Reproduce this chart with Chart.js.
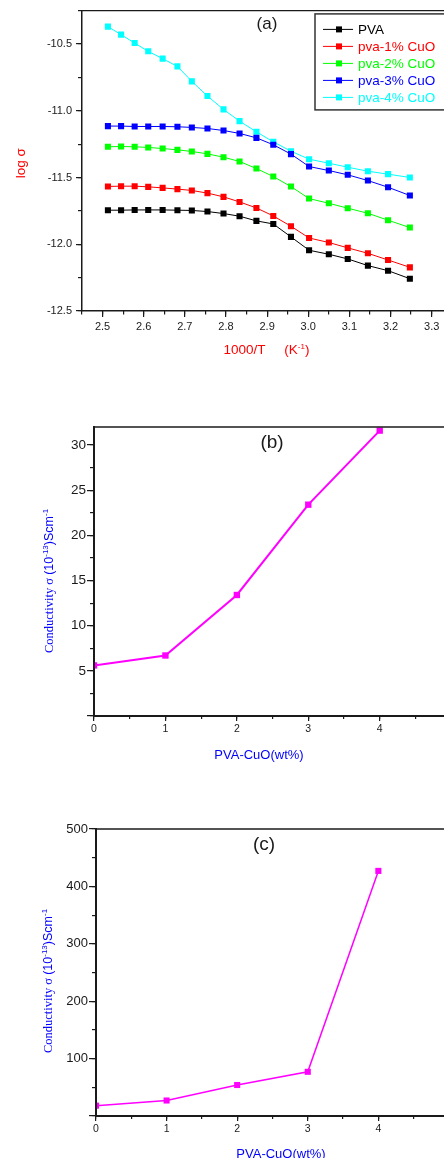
<!DOCTYPE html>
<html>
<head>
<meta charset="utf-8">
<title>PVA-CuO conductivity</title>
<script src="https://cdn.jsdelivr.net/npm/chart.js@4.4.1/dist/chart.umd.min.js"></script>
<style>
  html, body { margin: 0; padding: 0; background: #fff; overflow: hidden; }
  body { width: 444px; height: 1158px; position: relative; }
  canvas { position: absolute; left: 0; }
  #chartA { top: 0; }
  #chartB { top: 400px; }
  #chartC { top: 800px; }
</style>
</head>
<body>
<canvas id="chartA" width="444" height="362"></canvas>
<canvas id="chartB" width="444" height="370"></canvas>
<canvas id="chartC" width="444" height="370"></canvas>
<script>
const INK = '#1a1a1a';
const SANS = '"Liberation Sans", Arial, sans-serif';
const SERIF = '"Liberation Serif", "Times New Roman", serif';
const RED = '#ff0000';
const BLUE = '#0000ff';
const MAGENTA = '#ff00ff';

// ---------- (a) log sigma vs 1000/T ----------
const invT = [2.513, 2.545, 2.578, 2.611, 2.646, 2.682, 2.717, 2.755, 2.794, 2.833,
              2.874, 2.915, 2.958, 3.002, 3.050, 3.096, 3.145, 3.194, 3.247];
const logPVA  = [-11.745, -11.745, -11.743, -11.743, -11.743, -11.745, -11.747, -11.755, -11.770, -11.790,
                 -11.825, -11.848, -11.945, -12.045, -12.075, -12.110, -12.160, -12.198, -12.258];
const logCuO1 = [-11.567, -11.565, -11.565, -11.570, -11.578, -11.587, -11.597, -11.617, -11.645, -11.683,
                 -11.728, -11.788, -11.865, -11.953, -11.987, -12.027, -12.068, -12.118, -12.173];
const logCuO2 = [-11.270, -11.268, -11.270, -11.275, -11.283, -11.293, -11.305, -11.323, -11.348, -11.380,
                 -11.433, -11.493, -11.568, -11.658, -11.693, -11.730, -11.768, -11.820, -11.875];
const logCuO3 = [-11.115, -11.115, -11.118, -11.118, -11.118, -11.120, -11.125, -11.133, -11.148, -11.170,
                 -11.203, -11.255, -11.325, -11.418, -11.448, -11.480, -11.523, -11.573, -11.635];
const logCuO4 = [-10.370, -10.430, -10.493, -10.555, -10.610, -10.668, -10.780, -10.890, -10.990, -11.078,
                 -11.158, -11.233, -11.303, -11.363, -11.393, -11.423, -11.453, -11.475, -11.500];
const seriesLabels = ['PVA', 'pva-1% CuO', 'pva-2% CuO', 'pva-3% CuO', 'pva-4% CuO'];
const seriesColors = ['#000000', '#ff0000', '#00ff00', '#0000ff', '#00ffff'];
const seriesValues = [logPVA, logCuO1, logCuO2, logCuO3, logCuO4];

// ---------- (b), (c) conductivity vs CuO content ----------
const cuoWt = [0, 1, 2, 3, 4];
const sigmaB = [5.6, 6.7, 13.4, 23.4, 31.6];
const sigmaC = [18, 27, 54, 77, 427];

Chart.defaults.font.family = SANS;
Chart.defaults.color = INK;
Chart.defaults.animation = false;
Chart.defaults.events = [];
Chart.defaults.plugins.legend.display = false;
Chart.defaults.plugins.tooltip.enabled = false;

// text made of runs with their own font and raise (for superscripts)
function richText(ctx, runs, cx, cy, rot) {
  ctx.save();
  ctx.translate(cx, cy);
  ctx.rotate(rot);
  ctx.textAlign = 'left';
  ctx.textBaseline = 'alphabetic';
  let total = 0;
  const widths = runs.map(r => { ctx.font = r.font; const w = ctx.measureText(r.t).width; total += w; return w; });
  let x = -total / 2;
  runs.forEach((r, i) => {
    ctx.font = r.font;
    ctx.fillStyle = r.color;
    ctx.fillText(r.t, x, -(r.rise || 0));
    x += widths[i];
  });
  ctx.restore();
}

function drawLegend(chart, L) {
  const { ctx, chartArea: a } = chart;
  const left = a.right - L.fromRight;
  const top = a.top + L.dy;
  const sets = chart.data.datasets;
  const h = L.first + L.row * (sets.length - 1) + L.tail;
  ctx.fillStyle = '#fff';
  ctx.fillRect(left, top, a.right - left + 10, h);
  ctx.strokeStyle = '#333';
  ctx.lineWidth = 1.5;
  ctx.strokeRect(left, top, a.right - left + 10, h);
  ctx.font = `13.5px ${SANS}`;
  ctx.textAlign = 'left';
  ctx.textBaseline = 'middle';
  sets.forEach((ds, i) => {
    const y = top + L.first + i * L.row;
    ctx.strokeStyle = ds.borderColor;
    ctx.lineWidth = 1;
    ctx.beginPath();
    ctx.moveTo(left + 8, y);
    ctx.lineTo(left + 38, y);
    ctx.stroke();
    ctx.fillStyle = ds.borderColor;
    ctx.fillRect(left + 24 - 3, y - 3, 6, 6);
    ctx.fillText(ds.label, left + 43, y + 0.5);
  });
}

const decor = {
  id: 'decor',
  afterDraw(chart, _args, o) {
    const { ctx, chartArea: a } = chart;
    const midX = (a.left + a.right) / 2;
    const midY = (a.top + a.bottom) / 2;
    ctx.save();

    // top frame (right edge of the plot lies outside the picture)
    ctx.strokeStyle = INK;
    ctx.lineWidth = o.frame;
    ctx.beginPath();
    ctx.moveTo(a.left, a.top);
    ctx.lineTo(a.right, a.top);
    ctx.stroke();

    ctx.fillStyle = INK;
    ctx.font = `${o.tagSize}px ${SANS}`;
    ctx.textAlign = 'center';
    ctx.textBaseline = 'middle';
    ctx.fillText(o.tag, midX + o.tagDx, a.top + o.tagDy);

    richText(ctx, o.xTitle, midX + o.xTitleDx, a.bottom + o.xTitleDy, 0);
    richText(ctx, o.yTitle, o.yTitleX, midY + o.yTitleDy, -Math.PI / 2);

    if (o.legend) drawLegend(chart, o.legend);
    ctx.restore();
  },
};

// a labelled axis plus an overlaid, zero-size axis that only draws minor ticks
function axisPair(dir, o) {
  const horizontal = dir === 'x';
  const fix = n => s => { if (horizontal) s.height = n; else s.width = n; };
  const common = { type: 'linear', axis: dir, position: horizontal ? 'bottom' : 'left', min: o.min, max: o.max };
  return {
    [dir]: {
      ...common, weight: 1, afterFit: fix(o.size),
      border: { color: INK, width: o.line, z: 1 },
      grid: { drawOnChartArea: false, color: INK, lineWidth: 1.2, tickLength: o.tick },
      ticks: {
        stepSize: o.major, includeBounds: false, autoSkip: false, maxRotation: 0,
        padding: o.pad, color: INK, font: { family: SANS, size: o.fontSize }, callback: o.fmt,
      },
    },
    [dir + 'Minor']: {
      ...common, weight: 0, afterFit: fix(0),
      border: { display: false },
      grid: { drawOnChartArea: false, color: INK, lineWidth: 1.2, tickLength: o.minorTick },
      ticks: { display: false, stepSize: o.minor, includeBounds: false, autoSkip: false },
    },
  };
}

function lineSet(label, xs, ys, color, width, radius) {
  return {
    label,
    data: xs.map((x, i) => ({ x, y: ys[i] })),
    xAxisID: 'x', yAxisID: 'y',
    borderColor: color, backgroundColor: color,
    borderWidth: width, tension: 0,
    pointStyle: 'rect', pointRadius: radius, pointHoverRadius: radius, pointBorderWidth: 0,
    clip: 0,
  };
}

const sup = (t, color) => ({ t, font: `8px ${SANS}`, color, rise: 5 });

// ---------- chart (a) ----------
new Chart(document.getElementById('chartA'), {
  type: 'line',
  data: {
    datasets: seriesValues.map((v, i) => lineSet(seriesLabels[i], invT, v, seriesColors[i], 1, 4.3)),
  },
  options: {
    responsive: false,
    layout: { autoPadding: false, padding: { top: 10, left: 0, right: 0, bottom: 0 } },
    scales: {
      ...axisPair('x', { min: 2.45, max: 3.33, major: 0.1, minor: 0.05, size: 51, line: 1.5, tick: 6, minorTick: 3.5,
        pad: 3, fontSize: 11, fmt: v => v.toFixed(1) }),
      ...axisPair('y', { min: -12.5, max: -10.25, major: 0.5, minor: 0.25, size: 82, line: 1.5, tick: 6, minorTick: 4,
        pad: 4, fontSize: 11, fmt: v => v.toFixed(1) }),
    },
    plugins: {
      decor: {
        frame: 1.3, tag: '(a)', tagSize: 17, tagDx: 4, tagDy: 14,
        xTitle: [
          { t: '1000/T     (K', font: `13.5px ${SANS}`, color: RED },
          sup('-1', RED),
          { t: ')', font: `13.5px ${SANS}`, color: RED },
        ],
        xTitleDx: 3.5, xTitleDy: 43,
        yTitle: [{ t: 'log σ', font: `13.5px ${SANS}`, color: RED }],
        yTitleX: 25, yTitleDy: 2.5,
        legend: { fromRight: 129, dy: 3.3, first: 15.5, row: 17, tail: 12.5 },
      },
    },
  },
  plugins: [decor],
});

const conductivityTitle = [
  { t: 'Conductivity σ ', font: `12.5px ${SERIF}`, color: BLUE },
  { t: '(10', font: `12.5px ${SANS}`, color: BLUE },
  sup('-13', BLUE),
  { t: ')Scm', font: `12.5px ${SANS}`, color: BLUE },
  sup('-1', BLUE),
];
const wtTitle = [{ t: 'PVA-CuO(wt%)', font: `13px ${SANS}`, color: BLUE }];
const hideZero = v => (v === 0 ? '' : v);

// ---------- chart (b) ----------
new Chart(document.getElementById('chartB'), {
  type: 'line',
  data: { datasets: [lineSet('PVA-CuO', cuoWt, sigmaB, MAGENTA, 2, 4.5)] },
  options: {
    responsive: false,
    layout: { autoPadding: false, padding: { top: 27, left: 0, right: 0, bottom: 0 } },
    scales: {
      ...axisPair('x', { min: 0, max: 4.9, major: 1, minor: 0.5, size: 54, line: 2, tick: 5, minorTick: 3,
        pad: 2, fontSize: 10.5, fmt: v => v }),
      ...axisPair('y', { min: 0, max: 32, major: 5, minor: 2.5, size: 94, line: 2, tick: 7, minorTick: 4,
        pad: 1, fontSize: 13.5, fmt: hideZero }),
    },
    plugins: {
      decor: {
        frame: 1.5, tag: '(b)', tagSize: 19, tagDx: 3, tagDy: 16,
        xTitle: wtTitle, xTitleDx: -10, xTitleDy: 43,
        yTitle: conductivityTitle, yTitleX: 53, yTitleDy: 9.5,
      },
    },
  },
  plugins: [decor],
});

// ---------- chart (c) ----------
new Chart(document.getElementById('chartC'), {
  type: 'line',
  data: { datasets: [lineSet('PVA-CuO', cuoWt, sigmaC, MAGENTA, 1.5, 4.3)] },
  options: {
    responsive: false,
    layout: { autoPadding: false, padding: { top: 29, left: 0, right: 0, bottom: 0 } },
    scales: {
      ...axisPair('x', { min: 0, max: 4.93, major: 1, minor: 0.5, size: 54, line: 2, tick: 5, minorTick: 3,
        pad: 1.5, fontSize: 10.5, fmt: v => v }),
      ...axisPair('y', { min: 0, max: 500, major: 100, minor: 50, size: 96, line: 2, tick: 7, minorTick: 4,
        pad: 1, fontSize: 13, fmt: hideZero }),
    },
    plugins: {
      decor: {
        frame: 1.5, tag: '(c)', tagSize: 19, tagDx: -6, tagDy: 16,
        xTitle: wtTitle, xTitleDx: 11, xTitleDy: 42,
        yTitle: conductivityTitle, yTitleX: 51.5, yTitleDy: 8.5,
      },
    },
  },
  plugins: [decor],
});
</script>
</body>
</html>
